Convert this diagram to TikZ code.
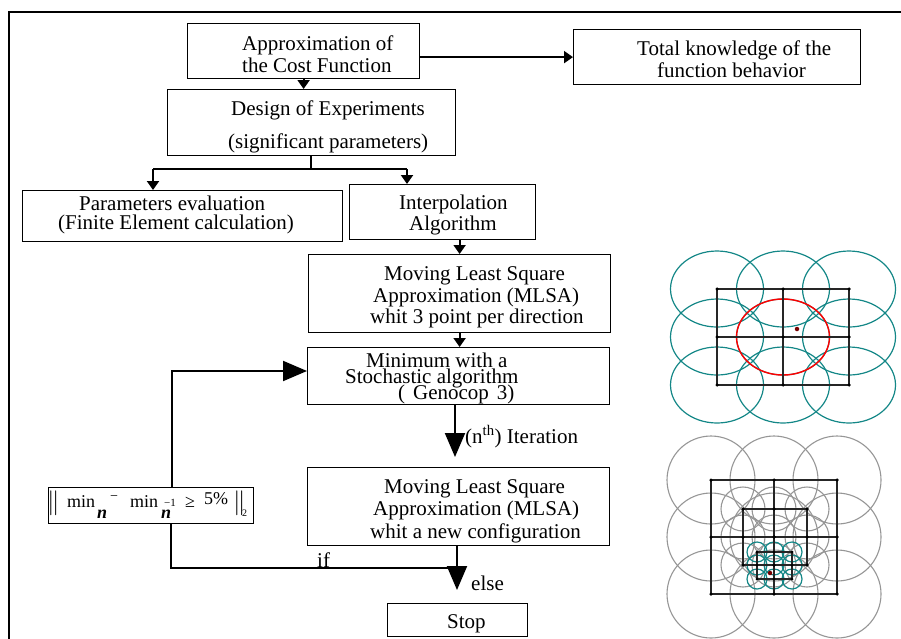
\documentclass[tikz,border=0pt]{standalone}
\usepackage{fontspec}
\setmainfont{Liberation Serif}
\usetikzlibrary{arrows.meta}
\definecolor{tealc}{RGB}{20,135,135}
\definecolor{grayc}{RGB}{150,150,150}
\definecolor{dotred}{RGB}{120,0,0}
\tikzset{
  box/.style={draw, line width=1.2pt, rectangle, inner sep=0pt, anchor=north west},
  txt/.style={anchor=base west, inner sep=0pt, font=\fontsize{21}{22}\selectfont},
  ctxt/.style={anchor=base west, inner sep=0pt, font=\fontsize{18}{18}\selectfont},
  flow/.style={line width=2pt},
  arrowsmall/.style={flow, -{Triangle[length=9pt,width=12pt]}},
  arrowbig/.style={flow, -{Triangle[length=24pt,width=20pt]}},
  gridline/.style={line width=1.3pt, black!85},
  gdot/.style={circle, fill=black, inner sep=0pt, minimum size=3.5pt},
}
\begin{document}
\begin{tikzpicture}[x=1pt,y=-1pt]
\useasboundingbox (0,0) rectangle (901,638);
% outer frame
\coordinate (fbl) at (9,660);
\coordinate (ftl) at (9,12);
\coordinate (ftr) at (920,12);
\draw[line width=1.4pt] (fbl) -- (ftl) -- (ftr);

% boxes
\node[box, minimum width=232pt, minimum height=55pt] (approx) at (187,23) {};
\node[box, minimum width=287pt, minimum height=55pt] (total) at (573,29) {};
\node[box, minimum width=288pt, minimum height=66pt] (doe) at (167,89) {};
\node[box, minimum width=320pt, minimum height=51pt] (param) at (22,190) {};
\node[box, minimum width=186pt, minimum height=55pt] (interp) at (349,184) {};
\node[box, minimum width=302pt, minimum height=78pt] (mlsa1) at (308,254) {};
\node[box, minimum width=302pt, minimum height=57pt] (mini) at (307,347) {};
\node[box, minimum width=302pt, minimum height=78pt] (mlsa2) at (307,467) {};
\node[box, minimum width=205pt, minimum height=36pt] (cond) at (48,487) {};
\node[box, minimum width=140pt, minimum height=33pt] (stop) at (387,603) {};

% texts
\node[txt] (t1a) at (242,50) {Approximation of};
\node[txt] (t1b) at (242,72) {the Cost Function};
\node[txt] (t2a) at (637,55) {Total knowledge of the};
\node[txt] (t2b) at (657,77) {function behavior};
\node[txt] (t3a) at (231,115) {Design of Experiments};
\node[txt] (t3b) at (228,148) {(significant parameters)};
\node[txt] (t4a) at (79,210) {Parameters evaluation};
\node[txt] (t4b) at (58,229) {(Finite Element calculation)};
\node[txt] (t5a) at (399,209) {Interpolation};
\node[txt] (t5b) at (409,230) {Algorithm};
\node[txt] (t6a) at (384,280) {Moving Least Square};
\node[txt] (t6b) at (373,302) {Approximation (MLSA)};
\node[txt] (t6c) at (370,323) {whit 3 point per direction};
\node[txt] (t7a) at (366,367) {Minimum with a};
\node[txt] (t7b) at (345,383) {Stochastic algorithm};
\node[txt] (t7c) at (398,399) {(\hspace{8pt}Genocop\hspace{8pt}3)};
\node[txt] (t8) at (465,443) {(n\textsuperscript{th}) Iteration};
\node[txt] (t9a) at (384,493) {Moving Least Square};
\node[txt] (t9b) at (373,515) {Approximation (MLSA)};
\node[txt] (t9c) at (370,538) {whit a new configuration};
\node[txt] (tif) at (317,567) {if};
\node[txt] (telse) at (471,590) {else};
\node[txt] (tstop) at (447,628) {Stop};

% condition
\node[anchor=base west, inner sep=0pt, font=\fontsize{26}{26}\selectfont] (c1) at (47,509) {$\Vert$};
\node[ctxt] (c2) at (67,507) {min};
\node[ctxt] (c3) at (97,518) {\textbf{\textit{n}}};
\node[anchor=base west, inner sep=0pt, font=\fontsize{14}{14}\selectfont] (c4) at (110,500) {−};
\node[ctxt] (c5) at (130,507) {min};
\node[ctxt] (c6) at (161,518) {\textbf{\textit{n}}};
\node[anchor=base west, inner sep=0pt, font=\fontsize{11}{11}\selectfont] (c7) at (164,506) {−1};
\node[ctxt] (c8) at (185,507) {≥};
\node[ctxt] (c9) at (204,504) {5\%};
\node[anchor=base west, inner sep=0pt, font=\fontsize{26}{26}\selectfont] (c10) at (233,509) {$\Vert$};
\node[anchor=base west, inner sep=0pt, font=\fontsize{10}{10}\selectfont] (c11) at (242,516) {2};

% connectors
\draw[arrowsmall] (approx.east |- total.west) -- (total.west);
\draw[arrowsmall] (approx.south) -- (approx.south |- doe.north);
\coordinate (split) at (311,169);
\coordinate (bl) at (153,169);
\coordinate (br) at (407,169);
\draw[flow] (doe.south -| split) -- (split);
\draw[flow] (bl) -- (br);
\draw[arrowsmall] (bl) -- (bl |- param.north);
\draw[arrowsmall] (br) -- (br |- interp.north);
\draw[arrowsmall] (mlsa1.north |- interp.south) -- (mlsa1.north);
\draw[arrowsmall] (mlsa1.south) -- (mlsa1.south |- mini.north);
\coordinate (mo) at (455,404);
\draw[arrowbig, shorten >=10pt] (mo) -- (mo |- mlsa2.north);
\coordinate (junc) at (457,568);
\draw[flow] (mlsa2.south -| junc) -- (junc);
\draw[arrowbig, shorten >=13pt] (junc) -- (junc |- stop.north);
\coordinate (ifc) at (171,568);
\draw[flow] (junc) -- (ifc) -- (ifc |- cond.south);
\coordinate (upc) at (172,371);
\draw[arrowbig] (upc |- cond.north) -- (upc) -- (upc -| mini.west);

% top right figure
\foreach \x in {717,783,849}{
  \foreach \y in {289,337,385}{
    \draw[tealc, line width=1.2pt] (\x,\y) ellipse [x radius=46.5, y radius=38];
  }
}
\draw[red, line width=1.4pt] (783,337) ellipse [x radius=46.5, y radius=38];
\draw[gridline] (717,289) rectangle (849,385);
\draw[gridline] (783,289) -- (783,385);
\draw[gridline] (717,337) -- (849,337);
\foreach \x in {717,783,849}{
  \foreach \y in {289,337,385}{
    \node[gdot] at (\x,\y) {};
  }
}
\node[circle, fill=dotred, inner sep=0pt, minimum size=4.5pt] (tp) at (797,329) {};

% bottom right figure
\foreach \x in {711,774,837}{
  \foreach \y in {480,537,594}{
    \draw[grayc, line width=1.1pt] (\x,\y) circle [radius=44];
  }
}
\foreach \x in {743,774,807}{
  \foreach \y in {509,537,565}{
    \draw[grayc, line width=1.1pt] (\x,\y) circle [radius=22];
  }
}
\foreach \x in {757,774,792}{
  \foreach \y in {552,565,579}{
    \draw[tealc, line width=1.2pt] (\x,\y) circle [radius=10];
  }
}
\draw[gridline] (711,480) rectangle (837,594);
\draw[gridline] (774,480) -- (774,594);
\draw[gridline] (711,537) -- (837,537);
\draw[gridline] (743,509) rectangle (807,565);
\draw[gridline] (743,537) -- (807,537);
\draw[gridline] (757,552) rectangle (792,579);
\draw[gridline] (757,565) -- (792,565);
\foreach \x in {711,774,837}{
  \foreach \y in {480,537,594}{
    \node[gdot] at (\x,\y) {};
  }
}
\foreach \x in {743,774,807}{
  \foreach \y in {509,537,565}{
    \node[gdot] at (\x,\y) {};
  }
}
\foreach \x in {757,774,792}{
  \foreach \y in {552,565,579}{
    \node[gdot, minimum size=3pt] at (\x,\y) {};
  }
}
\node[circle, fill=dotred, inner sep=0pt, minimum size=4.5pt] (bp) at (770,573) {};
\end{tikzpicture}
\end{document}
